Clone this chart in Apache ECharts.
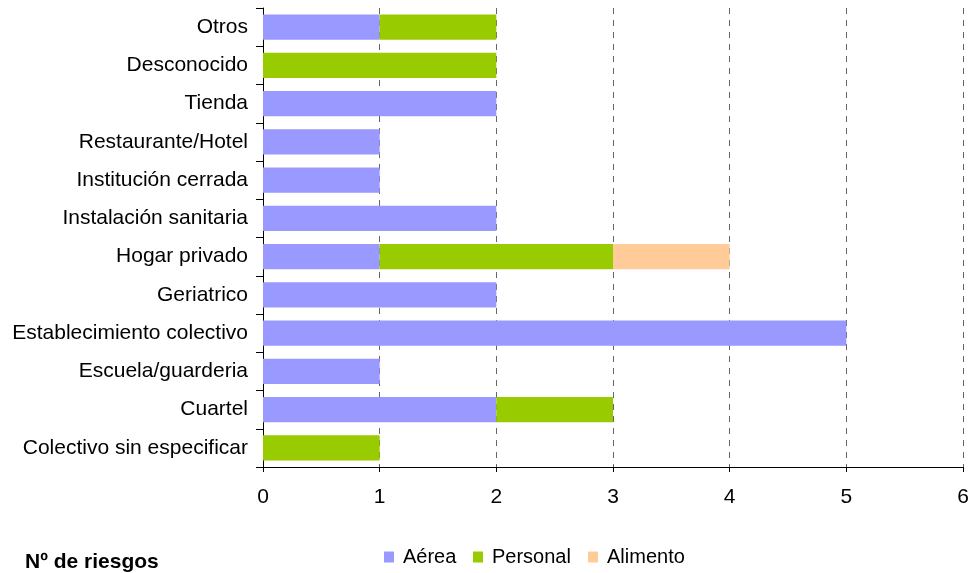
<!DOCTYPE html>
<html><head><meta charset="utf-8">
<script src="https://cdn.jsdelivr.net/npm/echarts@6/dist/echarts.min.js"></script>
<style>html,body{margin:0;padding:0;background:#fff}#c{width:974px;height:573px}</style>
</head><body><div id="c"></div>
<script>
const categories = ['Colectivo sin especificar','Cuartel','Escuela/guarderia','Establecimiento colectivo','Geriatrico','Hogar privado','Instalación sanitaria','Institución cerrada','Restaurante/Hotel','Tienda','Desconocido','Otros'];
const aerea    = [0,2,1,5,2,1,2,1,1,2,0,1];
const personal = [1,1,0,0,0,2,0,0,0,0,2,1];
const alimento = [0,0,0,0,0,1,0,0,0,0,0,0];
const xTicks = [0,1,2,3,4,5,6];
const seriesNames = ['Aérea','Personal','Alimento'];
const colors = ['#9999FF','#99CC00','#FFCC99'];
const legendLefts = [384,473,588];
const font = 'Arial, "Liberation Sans", sans-serif';
const chart = echarts.init(document.getElementById('c'));
const toData = arr => arr.map(v => v === 0 ? '-' : v);
chart.setOption({
  animation:false,
  title:{text:'Nº de riesgos', left:20, top:547, textStyle:{fontFamily:font,fontSize:21,fontWeight:'bold',color:'#000'}},
  legend:seriesNames.map((n,i)=>({data:[n], left:legendLefts[i], top:547, itemWidth:10, itemHeight:11, icon:'rect', padding:0,
    textStyle:{fontFamily:font,fontSize:20,color:'#000',padding:[0,0,0,4]}})),
  grid:{left:263, right:11, top:8, bottom:106, containLabel:false},
  xAxis:{type:'value', min:xTicks[0], max:xTicks[xTicks.length-1], interval:1,
    axisLine:{show:true,lineStyle:{color:'#000',width:1}},
    axisTick:{show:true,length:5,lineStyle:{color:'#000'}},
    axisLabel:{fontFamily:font,fontSize:21,color:'#000',margin:20},
    splitLine:{show:true,lineStyle:{color:'#666',type:[6,6],width:1}}},
  yAxis:{type:'category', data:categories,
    axisLine:{show:true,lineStyle:{color:'#000',width:1}},
    axisTick:{show:true,length:7,lineStyle:{color:'#000'}},
    axisLabel:{fontFamily:font,fontSize:21,color:'#000',margin:15}},
  series:[
    {name:seriesNames[0],type:'bar',stack:'s',data:toData(aerea),itemStyle:{color:colors[0]},barCategoryGap:'34%'},
    {name:seriesNames[1],type:'bar',stack:'s',data:toData(personal),itemStyle:{color:colors[1]}},
    {name:seriesNames[2],type:'bar',stack:'s',data:toData(alimento),itemStyle:{color:colors[2]}}
  ]
});
</script></body></html>
